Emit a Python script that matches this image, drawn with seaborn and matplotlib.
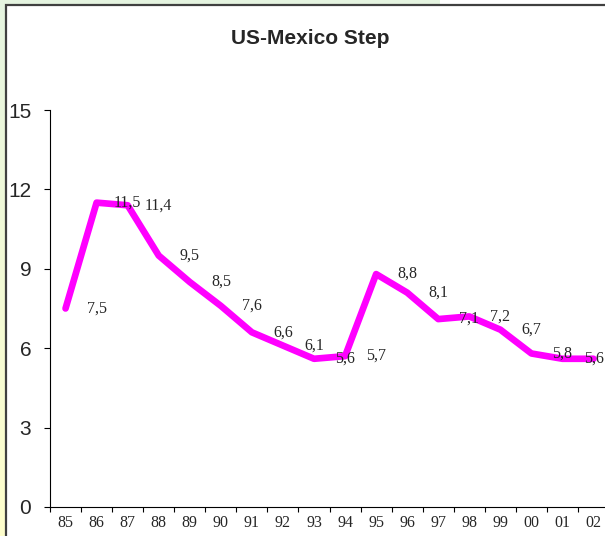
import numpy as np
import pandas as pd
import matplotlib
matplotlib.use("Agg")
import matplotlib.pyplot as plt
import seaborn as sns
from matplotlib.patches import Rectangle

# Data
years = ["85", "86", "87", "88", "89", "90", "91", "92", "93",
         "94", "95", "96", "97", "98", "99", "00", "01", "02"]
step = [7.5, 11.5, 11.4, 9.5, 8.5, 7.6, 6.6, 6.1, 5.6,
        5.7, 8.8, 8.1, 7.1, 7.2, 6.7, 5.8, 5.6, 5.6]
yticks = [0, 3, 6, 9, 12, 15]

df = pd.DataFrame({"pos": np.arange(len(years)), "year": years, "step": step})

sns.set_style("white")
plt.rcParams['font.family'] = ['Liberation Sans', 'DejaVu Sans']
serif = ["Liberation Serif", "DejaVu Serif"]

W, H = 605, 536
fig = plt.figure(figsize=(W / 100, H / 100), dpi=100)
fig.patch.set_facecolor("white")

# slide background: light green -> light yellow gradient on the left strip / top band
bg = fig.add_axes([0, 0, 1, 1], zorder=0)
grad = np.linspace(0, 1, 256).reshape(-1, 1)
top_c = np.array([0.90, 0.96, 0.88])
bot_c = np.array([1.00, 1.00, 0.80])
img = top_c[None, None, :] * (1 - grad[..., None]) + bot_c[None, None, :] * grad[..., None]
bg.imshow(img, aspect="auto", extent=[0, 1, 0, 1])
bg.add_patch(Rectangle((440 / W, 0), 1, 1, facecolor="white", edgecolor="none"))
bg.add_patch(Rectangle((5.5 / W, -0.05), 1.2, 1.05 - 5.5 / H,
                       facecolor="white", edgecolor="#404040", lw=1.6))
bg.set_xlim(0, 1)
bg.set_ylim(0, 1)
bg.axis("off")

fig.text(310 / W, 1 - 38 / H, "US-Mexico Step", ha="center", va="center",
         fontsize=15, fontweight="bold")

left, right_px, bottom_px, top_px = 50, 50 + 18 * 31.06, 507, 110
ax = fig.add_axes([left / W, (H - bottom_px) / H, (right_px - left) / W,
                   (bottom_px - top_px) / H], zorder=2)
ax.patch.set_alpha(0)

sns.lineplot(data=df, x="pos", y="step", color="#FF00FF", linewidth=4.8,
             ax=ax, legend=False)

for i, v in enumerate(step):
    ax.annotate(f"{v:.1f}".replace(".", ","), (i, v), xytext=(22.4, 0),
                textcoords="offset points", ha="center", va="center",
                fontsize=11.5, family=serif, annotation_clip=False)

ax.set_xlim(-0.5, len(years) - 0.5)
ax.set_ylim(0, 15)
ax.set_yticks(yticks)
ax.set_yticklabels([str(t) for t in yticks], fontsize=15)
ax.set_xticks(np.arange(len(years) + 1) - 0.5)
ax.set_xticklabels([])
ax.set_xticks(np.arange(len(years)), minor=True)
ax.set_xticklabels(years, minor=True, fontsize=11.5, family=serif)
ax.tick_params(axis="x", which="major", bottom=True, direction="out",
               length=3.5, width=0.8, color="black")
ax.tick_params(axis="x", which="minor", bottom=True, length=0, pad=6)
ax.tick_params(axis="y", left=True, direction="out", length=4.5, width=0.8,
               color="black", pad=9)
ax.set_xlabel("")
ax.set_ylabel("")

for s in ["top", "right"]:
    ax.spines[s].set_visible(False)
for s in ["left", "bottom"]:
    ax.spines[s].set_color("black")
    ax.spines[s].set_linewidth(0.8)

fig.savefig("out.png", dpi=100)
